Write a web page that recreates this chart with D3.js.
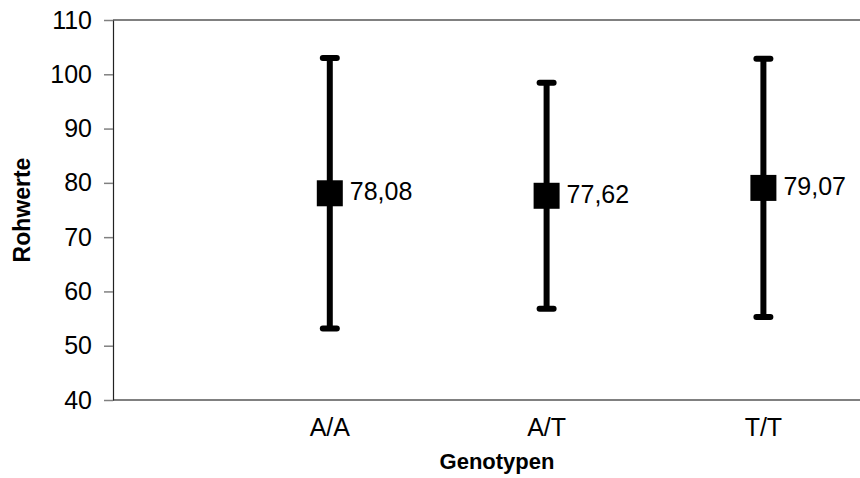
<!DOCTYPE html>
<html>
<head>
<meta charset="utf-8">
<script src="https://cdn.jsdelivr.net/npm/d3@7"></script>
<style>
  html, body { margin: 0; padding: 0; background: #fff; }
  svg { display: block; font-family: Arial, "Liberation Sans", sans-serif; }
</style>
</head>
<body>
<div id="chart"></div>
<script>
// genotype groups, mean raw score and spread (error bar half-length)
const genotypes = ["A/A", "A/T", "T/T"];
const means = [78.08, 77.62, 79.07];
const spreads = [24.9, 20.8, 23.8];
const yTicks = [40, 50, 60, 70, 80, 90, 100, 110];

const width = 860, height = 478;
const plot = { left: 113, top: 20, right: 860, bottom: 400 };

const svg = d3.select("#chart").append("svg")
  .attr("width", width).attr("height", height);

const data = genotypes.map((g, i) => ({ g, mean: means[i], sd: spreads[i] }));

// categories sit one step apart, the first a full step right of the axis
const x = d3.scalePoint()
  .domain(["", ...genotypes])
  .range([plot.left, plot.left + 3 * 216.8]);

const y = d3.scaleLinear()
  .domain([40, 110])
  .range([plot.bottom, plot.top]);

// frame lines (top and bottom)
svg.append("line")
  .attr("x1", plot.left).attr("x2", plot.right)
  .attr("y1", y(110)).attr("y2", y(110))
  .attr("stroke", "#808080").attr("stroke-width", 2);
svg.append("line")
  .attr("x1", plot.left).attr("x2", plot.right)
  .attr("y1", y(40)).attr("y2", y(40))
  .attr("stroke", "#808080").attr("stroke-width", 2);

// y axis
const gy = svg.append("g")
  .attr("transform", `translate(${plot.left},0)`)
  .call(d3.axisLeft(y).tickValues(yTicks).tickSize(9).tickPadding(12).tickSizeOuter(0));
gy.select(".domain").attr("stroke", "#222").attr("stroke-width", 1.2);
gy.selectAll(".tick line").attr("stroke", "#808080").attr("stroke-width", 1.5);
gy.selectAll(".tick text")
  .attr("font-size", 25).attr("fill", "#000")
  .attr("font-family", "Arial, 'Liberation Sans', sans-serif");

// x category labels
svg.append("g").selectAll("text")
  .data(genotypes)
  .join("text")
  .attr("x", d => x(d))
  .attr("y", 436)
  .attr("text-anchor", "middle")
  .attr("font-size", 25)
  .text(d => d);

// axis titles
svg.append("text")
  .attr("x", 497).attr("y", 469)
  .attr("text-anchor", "middle")
  .attr("font-size", 22).attr("font-weight", "bold")
  .text("Genotypen");
svg.append("text")
  .attr("transform", `translate(30,${(plot.top + plot.bottom) / 2}) rotate(-90)`)
  .attr("text-anchor", "middle")
  .attr("font-size", 23).attr("font-weight", "bold")
  .text("Rohwerte");

// error bars
const bars = svg.append("g");
bars.selectAll(".stem")
  .data(data)
  .join("line")
  .attr("class", "stem")
  .attr("x1", d => x(d.g)).attr("x2", d => x(d.g))
  .attr("y1", d => y(d.mean + d.sd)).attr("y2", d => y(d.mean - d.sd))
  .attr("stroke", "#000").attr("stroke-width", 6);
bars.selectAll(".cap")
  .data(data.flatMap(d => [{ g: d.g, v: d.mean + d.sd }, { g: d.g, v: d.mean - d.sd }]))
  .join("line")
  .attr("class", "cap")
  .attr("x1", d => x(d.g) - 7).attr("x2", d => x(d.g) + 7)
  .attr("y1", d => y(d.v)).attr("y2", d => y(d.v))
  .attr("stroke", "#000").attr("stroke-width", 6).attr("stroke-linecap", "round");

// mean markers
svg.append("g").selectAll("rect")
  .data(data)
  .join("rect")
  .attr("x", d => x(d.g) - 13)
  .attr("y", d => y(d.mean) - 13)
  .attr("width", 26).attr("height", 26)
  .attr("fill", "#000");

// value labels
svg.append("g").selectAll("text")
  .data(data)
  .join("text")
  .attr("x", d => x(d.g) + 20)
  .attr("y", d => y(d.mean) + 7)
  .attr("font-size", 25)
  .text(d => d3.format(".2f")(d.mean).replace(".", ","));
</script>
</body>
</html>
